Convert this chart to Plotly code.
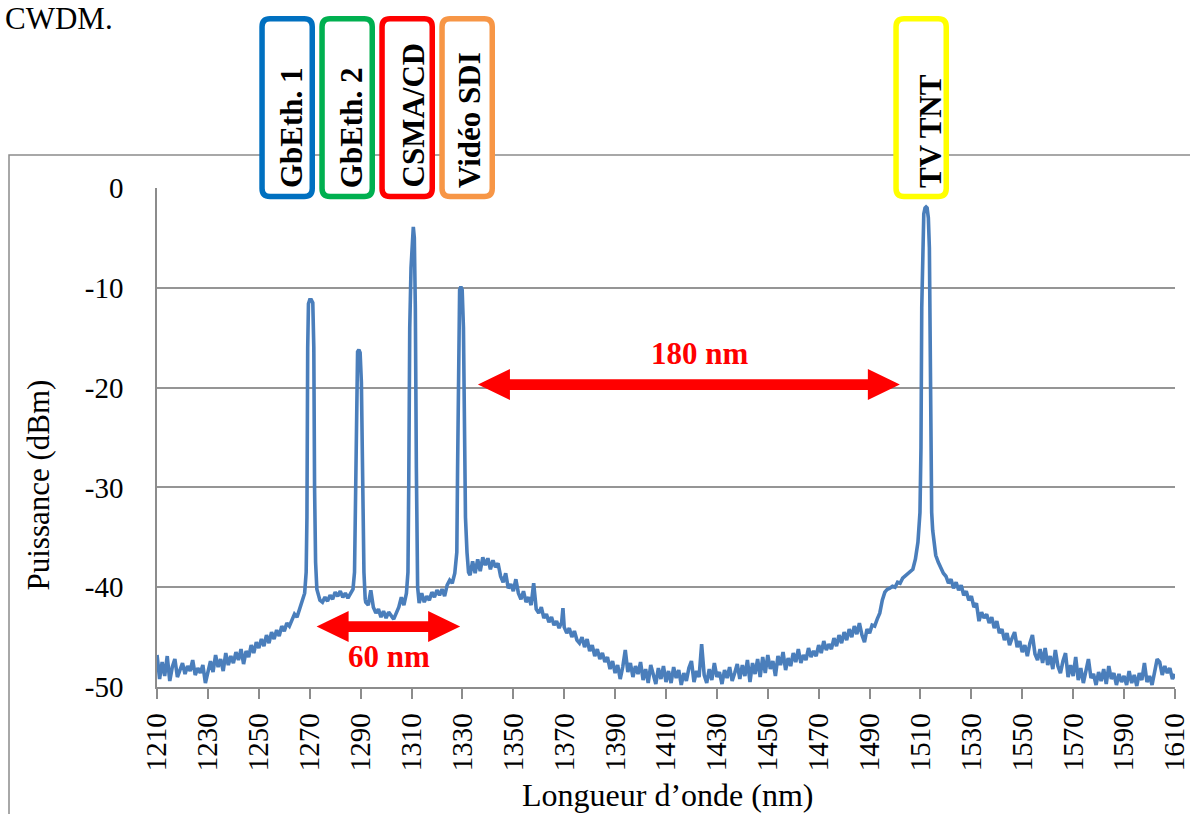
import plotly.graph_objects as go

# ---------------- data ----------------
x_tick_values = [1210, 1230, 1250, 1270, 1290, 1310, 1330, 1350, 1370, 1390, 1410,
                 1430, 1450, 1470, 1490, 1510, 1530, 1550, 1570, 1590, 1610]
y_tick_values = [-50, -40, -30, -20, -10, 0]
y_tick_labels = ["-50", "-40", "-30", "-20", "-10", "0"]

# left noise floor and rise (nm / dBm)
rise_left_wl = [1210, 1211, 1212, 1213, 1214, 1215, 1216, 1217, 1218, 1219,
                1220, 1221, 1222, 1223, 1224, 1225, 1226, 1227, 1228, 1229,
                1230, 1231, 1232, 1233, 1234, 1235, 1236, 1237, 1238, 1239,
                1240, 1241, 1242, 1243, 1244, 1245, 1246, 1247, 1248, 1249,
                1250, 1251, 1252, 1253, 1254, 1255, 1256, 1257, 1258, 1259,
                1260, 1261, 1262, 1263, 1264, 1265, 1266, 1267, 1268, 1268.6]
rise_left_dbm = [-46.8, -49.2, -47.5, -48.9, -46.9, -49.4, -48.0, -47.2, -49.0, -48.2,
                 -47.6, -48.7, -47.9, -48.4, -47.3, -48.8, -48.1, -48.6, -47.8, -49.6,
                 -48.3, -47.4, -48.5, -46.8, -48.0, -47.2, -48.4, -46.6, -47.8, -46.9,
                 -47.6, -46.5, -47.3, -46.2, -47.7, -46.4, -47.0, -45.8, -46.6, -45.5,
                 -46.1, -45.2, -45.9, -44.8, -45.6, -44.5, -45.2, -44.3, -44.9, -43.9,
                 -44.4, -43.6, -43.9, -43.2, -42.7, -43.0, -42.2, -41.5, -40.6, -38.5]

# GbEth. 1 channel (1270 nm)
peak_1270_wl = [1268.9, 1269.2, 1269.5, 1270.0, 1270.6, 1271.2, 1271.6, 1271.9, 1272.3, 1272.8, 1273.5]
peak_1270_dbm = [-33.0, -16.0, -11.6, -11.2, -11.2, -11.5, -16.0, -30.0, -37.5, -40.2, -41.0]

floor_a_wl = [1274, 1275, 1276, 1277, 1278, 1279, 1280, 1281, 1282, 1283, 1284, 1285, 1286, 1287, 1287.6]
floor_a_dbm = [-41.3, -41.5, -41.0, -41.4, -40.8, -41.2, -40.5, -40.9, -40.4, -41.0, -40.6, -41.1, -40.7, -40.2, -38.5]

# GbEth. 2 channel (1290 nm)
peak_1290_wl = [1288.0, 1288.4, 1288.8, 1289.3, 1289.8, 1290.3, 1290.8, 1291.3, 1291.8]
peak_1290_dbm = [-30.0, -19.0, -16.4, -16.2, -16.5, -19.5, -30.0, -38.5, -41.2]

floor_b_wl = [1292, 1293, 1294, 1295, 1296, 1297, 1298, 1299, 1300, 1301, 1302, 1303, 1304,
              1305, 1306, 1307, 1308, 1308.6]
floor_b_dbm = [-41.5, -41.8, -40.3, -42.0, -42.6, -42.2, -43.0, -42.4, -43.1, -42.5, -42.9, -43.2, -42.6,
               -42.0, -41.0, -41.8, -40.6, -38.5]

# CSMA/CD channel (1310 nm)
peak_1310_wl = [1308.9, 1309.3, 1309.8, 1310.3, 1310.7, 1311.1, 1311.5, 1311.9, 1312.4]
peak_1310_dbm = [-30.0, -14.0, -8.0, -4.5, -3.9, -5.0, -12.0, -28.0, -40.0]

floor_c_wl = [1313, 1314, 1315, 1316, 1317, 1318, 1319, 1320, 1321, 1322, 1323, 1324, 1325, 1326, 1327, 1327.8]
floor_c_dbm = [-41.6, -40.6, -41.5, -40.9, -41.3, -40.5, -41.0, -40.3, -40.8, -40.2, -40.9, -39.8, -39.3, -39.6, -38.6, -36.5]

# Vidéo SDI channel (1330 nm)
peak_1330_wl = [1328.1, 1328.5, 1328.9, 1329.4, 1329.9, 1330.4, 1330.8, 1331.2, 1331.8, 1332.4]
peak_1330_dbm = [-28.0, -13.0, -10.2, -9.9, -10.2, -14.0, -25.0, -33.0, -36.5, -38.5]

decline_wl = [1333, 1334, 1335, 1336, 1337, 1338, 1339, 1340, 1341, 1342, 1343, 1344, 1345,
              1346, 1347, 1348, 1349, 1350, 1351, 1352, 1353, 1354, 1355, 1356, 1357, 1358,
              1359, 1360, 1361, 1362, 1363, 1364, 1365, 1366, 1367, 1368, 1369, 1369.5, 1370,
              1371, 1372, 1373, 1374, 1375, 1376, 1377, 1378, 1379, 1380, 1381, 1382, 1383,
              1384, 1385, 1386, 1387, 1388, 1389, 1390, 1391, 1392, 1393, 1394, 1395, 1396,
              1397, 1398, 1399, 1400, 1401, 1402, 1403, 1404, 1405, 1406, 1407, 1408, 1409, 1410]
decline_dbm = [-38.8, -37.4, -38.6, -37.2, -38.4, -37.0, -37.8, -37.1, -38.2, -37.3, -38.0, -37.6, -38.9,
               -39.5, -38.6, -40.1, -39.7, -40.4, -39.2, -40.6, -41.2, -40.4, -41.5, -41.0, -41.8, -39.6,
               -42.2, -42.6, -42.0, -43.1, -42.7, -43.5, -43.0, -43.8, -43.4, -44.1, -43.5, -42.1, -44.0,
               -44.6, -44.1, -45.0, -44.4, -45.3, -45.6, -45.0, -46.0, -45.2, -46.4, -45.8, -46.9, -46.2,
               -47.2, -46.6, -47.5, -47.0, -48.2, -47.4, -48.6, -47.8, -49.2, -48.0, -46.3, -48.5, -47.6,
               -49.0, -47.9, -48.7, -47.5, -49.3, -48.2, -49.6, -47.8, -48.8, -49.7, -48.1, -49.2, -47.9, -49.5]

middle_wl = [1411, 1412, 1413, 1414, 1415, 1416, 1417, 1418, 1419, 1420, 1421, 1422, 1423, 1424,
             1425, 1426, 1427, 1428, 1429, 1430, 1431, 1432, 1433, 1434, 1435, 1436, 1437, 1438,
             1439, 1440, 1441, 1442, 1443, 1444, 1445, 1446, 1447, 1448, 1449, 1450, 1451, 1452,
             1453, 1454, 1455, 1456, 1457, 1458, 1459, 1460, 1461, 1462, 1463, 1464, 1465, 1466,
             1467, 1468, 1469, 1470, 1471, 1472, 1473, 1474, 1475, 1476, 1477, 1478, 1479, 1480,
             1481, 1482, 1483, 1484, 1485, 1486, 1487, 1488, 1489, 1490, 1491, 1492, 1493, 1494,
             1495, 1496, 1497, 1498, 1499, 1500, 1501, 1502, 1503, 1504, 1505, 1506, 1507, 1508,
             1509, 1509.8]
middle_dbm = [-48.4, -49.6, -48.0, -49.1, -48.3, -49.8, -48.6, -49.4, -48.1, -47.4, -49.5, -48.4, -49.0, -45.7,
              -48.8, -49.6, -48.2, -49.3, -47.6, -49.0, -48.5, -49.7, -48.3, -49.1, -48.0, -49.4, -48.6, -47.7,
              -49.2, -47.8, -48.9, -47.3, -49.5, -47.6, -48.7, -47.2, -49.0, -47.0, -48.6, -46.8, -48.2, -47.4,
              -48.9, -46.9, -47.8, -46.5, -48.3, -47.1, -47.9, -46.6, -47.5, -46.2, -47.6, -46.8, -47.3, -46.1,
              -47.0, -46.4, -46.9, -45.8, -46.6, -45.4, -46.3, -45.7, -46.2, -45.1, -45.9, -44.8, -45.6, -44.5,
              -45.3, -44.2, -45.0, -43.9, -44.7, -43.6, -44.8, -45.5, -44.2, -44.6, -43.8, -43.9, -43.2, -42.6,
              -41.3, -40.5, -40.2, -40.1, -39.9, -40.0, -39.5, -39.6, -39.1, -38.9, -38.6, -38.4, -38.2, -37.2,
              -35.5, -32.5]

# TV TNT channel (1512 nm)
peak_1512_wl = [1510.2, 1510.5, 1510.9, 1511.3, 1511.8, 1512.2, 1512.6, 1513.1, 1513.5, 1513.8,
                1514.1, 1514.4, 1514.8, 1515.4, 1516, 1517, 1518, 1519]
peak_1512_dbm = [-26.0, -12.0, -5.0, -2.6, -2.0, -1.9, -2.0, -3.0, -6.0, -14.0,
                 -28.0, -32.5, -34.3, -35.8, -36.8, -37.5, -38.1, -38.6]

tail_right_wl = [1520, 1521, 1522, 1523, 1524, 1525, 1526, 1527, 1528, 1529, 1530, 1531, 1532,
                 1533, 1534, 1535, 1536, 1537, 1538, 1539, 1540, 1541, 1542, 1543, 1544, 1545,
                 1546, 1547, 1548, 1549, 1550, 1551, 1552, 1553, 1554, 1555, 1556, 1557, 1558,
                 1559, 1560, 1561, 1562, 1563, 1564, 1565, 1566, 1567, 1568, 1569, 1570, 1571,
                 1572, 1573, 1574, 1575, 1576, 1577, 1578, 1579, 1580, 1581, 1582, 1583, 1584,
                 1585, 1586, 1587, 1588, 1589, 1590, 1591, 1592, 1593, 1594, 1595, 1596, 1597,
                 1598, 1599, 1600, 1601, 1602, 1603, 1604, 1605, 1606, 1607, 1608, 1609, 1610]
tail_right_dbm = [-38.9, -39.6, -39.2, -40.1, -39.5, -40.3, -39.8, -40.8, -40.4, -41.3, -40.9, -42.0, -41.6,
                  -43.4, -42.5, -43.1, -42.7, -43.6, -43.0, -44.1, -43.4, -44.6, -44.2, -45.3, -44.6, -45.8,
                  -45.1, -44.5, -46.0, -45.4, -46.5, -45.8, -46.9, -45.6, -44.8, -46.7, -47.3, -46.2, -47.6,
                  -46.1, -47.8, -46.9, -48.2, -46.3, -47.9, -48.6, -47.4, -46.6, -49.0, -47.8, -48.9, -47.0,
                  -49.3, -48.1, -49.6, -48.4, -47.2, -49.1, -48.7, -49.8, -48.5, -49.4, -48.2, -49.7, -47.9,
                  -49.2, -48.6, -49.8, -48.7, -49.5, -48.9, -49.8, -48.4, -49.6, -48.8, -49.9, -48.6, -49.3,
                  -47.6, -49.5, -48.9, -49.8, -48.3, -47.2, -47.5, -48.8, -47.9, -48.6, -48.1, -49.2, -48.7]

channel_labels = ["GbEth. 1", "GbEth. 2", "CSMA/CD", "Vidéo SDI", "TV TNT"]
channel_colors = ["#0070C0", "#00B050", "#FF0000", "#F79646", "#FFFF00"]

# ---------------- assemble spectrum ----------------
segments = [(rise_left_wl, rise_left_dbm), (peak_1270_wl, peak_1270_dbm), (floor_a_wl, floor_a_dbm),
            (peak_1290_wl, peak_1290_dbm), (floor_b_wl, floor_b_dbm), (peak_1310_wl, peak_1310_dbm),
            (floor_c_wl, floor_c_dbm), (peak_1330_wl, peak_1330_dbm), (decline_wl, decline_dbm),
            (middle_wl, middle_dbm), (peak_1512_wl, peak_1512_dbm), (tail_right_wl, tail_right_dbm)]
wavelength, power = [], []
for w, p in segments:
    assert len(w) == len(p), (w[0], len(w), len(p))
    wavelength += w
    power += p

# ---------------- geometry helpers ----------------
FIG_W, FIG_H = 1190, 814
PL, PR, PT, PB = 157, 1175, 188, 687          # plot area in pixels
X_RANGE = [1209.98, 1610.02]
Y_RANGE = [-50, 0]
NM_PER_PX = (X_RANGE[1] - X_RANGE[0]) / (PR - PL)
DB_PER_PX = (Y_RANGE[1] - Y_RANGE[0]) / (PB - PT)


def paper_x(X):
    return (X - PL) / (PR - PL)


def paper_y(Y):
    return (PB - Y) / (PB - PT)


def rounded_box_path(x0, y0, x1, y1, r):
    pts = [("M", [(x0 + r, y0)]), ("L", [(x1 - r, y0)]), ("Q", [(x1, y0), (x1, y0 + r)]),
           ("L", [(x1, y1 - r)]), ("Q", [(x1, y1), (x1 - r, y1)]), ("L", [(x0 + r, y1)]),
           ("Q", [(x0, y1), (x0, y1 - r)]), ("L", [(x0, y0 + r)]), ("Q", [(x0, y0), (x0 + r, y0)])]
    s = ""
    for cmd, ps in pts:
        s += cmd + " " + " ".join(f"{paper_x(a):.5f},{paper_y(b):.5f}" for a, b in ps) + " "
    return s + "Z"


def double_arrow_path(x_left, x_right, y_mid, head_px=32, head_half_px=15.5, shaft_half_px=5.3):
    hl = head_px * NM_PER_PX
    hh = head_half_px * DB_PER_PX
    sh = shaft_half_px * DB_PER_PX
    p = [(x_left, y_mid), (x_left + hl, y_mid + hh), (x_left + hl, y_mid + sh),
         (x_right - hl, y_mid + sh), (x_right - hl, y_mid + hh), (x_right, y_mid),
         (x_right - hl, y_mid - hh), (x_right - hl, y_mid - sh), (x_left + hl, y_mid - sh),
         (x_left + hl, y_mid - hh)]
    return "M " + " L ".join(f"{a:.4f},{b:.4f}" for a, b in p) + " Z"


SERIF = "Liberation Serif, Times New Roman, serif"
GRAY = "#8c8c8c"

fig = go.Figure()
fig.add_trace(go.Scatter(x=wavelength, y=power, mode="lines",
                         line=dict(color="#4A7EBB", width=3.6),
                         hoverinfo="skip", showlegend=False))

shapes = []
# outer chart border
shapes.append(dict(type="rect", xref="paper", yref="paper",
                   x0=paper_x(9), x1=paper_x(1210), y0=paper_y(155), y1=paper_y(840),
                   line=dict(color=GRAY, width=1.5), fillcolor="rgba(0,0,0,0)", layer="above"))

# channel label boxes
box_left_px = [259.3, 319.3, 379.3, 439.3, 893.3]
text_center_px = [291.6, 351.7, 413.0, 469.0, 930.0]
BOX_W, BOX_TOP, BOX_BOT, STROKE = 55.7, 16, 199.3, 5.5
annotations = []
for left, tc, lab, col in zip(box_left_px, text_center_px, channel_labels, channel_colors):
    h = STROKE / 2
    shapes.append(dict(type="path", xref="paper", yref="paper",
                       path=rounded_box_path(left + h, BOX_TOP + h, left + BOX_W - h, BOX_BOT - h, 8),
                       line=dict(color=col, width=STROKE), fillcolor="white", layer="above"))
    annotations.append(dict(text=f"<b>{lab}</b>", xref="paper", yref="paper",
                            x=paper_x(tc), y=paper_y(190), xanchor="center", yanchor="bottom",
                            textangle=-90, showarrow=False,
                            font=dict(family=SERIF, size=31, color="black")))

# red spacing arrows
shapes.append(dict(type="path", xref="x", yref="y", path=double_arrow_path(1336.1, 1501.9, -19.7),
                   fillcolor="#FF0000", line=dict(width=0), layer="above"))
shapes.append(dict(type="path", xref="x", yref="y", path=double_arrow_path(1272.7, 1329.1, -43.95),
                   fillcolor="#FF0000", line=dict(width=0), layer="above"))
annotations.append(dict(text="<b>180 nm</b>", xref="x", yref="y", x=1423, y=-16.6,
                        xanchor="center", yanchor="middle", showarrow=False,
                        font=dict(family=SERIF, size=31, color="#FF0000")))
annotations.append(dict(text="<b>60 nm</b>", xref="x", yref="y", x=1301, y=-46.9,
                        xanchor="center", yanchor="middle", showarrow=False,
                        font=dict(family=SERIF, size=31, color="#FF0000")))

# axis titles and caption fragment
annotations.append(dict(text="Longueur d’onde (nm)", xref="paper", yref="paper",
                        x=paper_x(667.5), y=paper_y(814), xanchor="center", yanchor="bottom",
                        borderpad=0, showarrow=False,
                        font=dict(family=SERIF, size=32, color="black")))
annotations.append(dict(text="Puissance (dBm)", xref="paper", yref="paper",
                        x=paper_x(37.5), y=paper_y(485), xanchor="center", yanchor="middle",
                        textangle=-90, showarrow=False,
                        font=dict(family=SERIF, size=31, color="black")))
annotations.append(dict(text="CWDM.", xref="paper", yref="paper",
                        x=paper_x(4), y=paper_y(0), xanchor="left", yanchor="top",
                        borderpad=0, showarrow=False,
                        font=dict(family=SERIF, size=31, color="black")))

fig.update_layout(
    width=FIG_W, height=FIG_H,
    margin=dict(l=PL, r=FIG_W - PR, t=PT, b=FIG_H - PB, pad=0, autoexpand=False),
    paper_bgcolor="white", plot_bgcolor="white",
    shapes=shapes, annotations=annotations, showlegend=False,
    xaxis=dict(range=X_RANGE, tickmode="array", tickvals=x_tick_values,
               ticktext=[str(v) for v in x_tick_values], tickangle=-90,
               ticks="outside", ticklen=10, tickwidth=1.5, tickcolor=GRAY,
               showline=True, linecolor=GRAY, linewidth=1.5, showgrid=False, zeroline=False,
               ticklabelstandoff=3, ticklabeloverflow="allow",
               tickfont=dict(family=SERIF, size=29, color="black")),
    yaxis=dict(range=Y_RANGE, tickmode="array", tickvals=y_tick_values, ticktext=y_tick_labels,
               ticks="", showline=True, linecolor=GRAY, linewidth=1.5,
               showgrid=True, gridcolor="#959595", gridwidth=1.5, zeroline=False,
               ticklabelstandoff=26, ticklabeloverflow="allow",
               tickfont=dict(family=SERIF, size=29, color="black")),
)

fig.write_html("out.html", config={"displayModeBar": False},
               post_script="document.body.style.margin='0';")
